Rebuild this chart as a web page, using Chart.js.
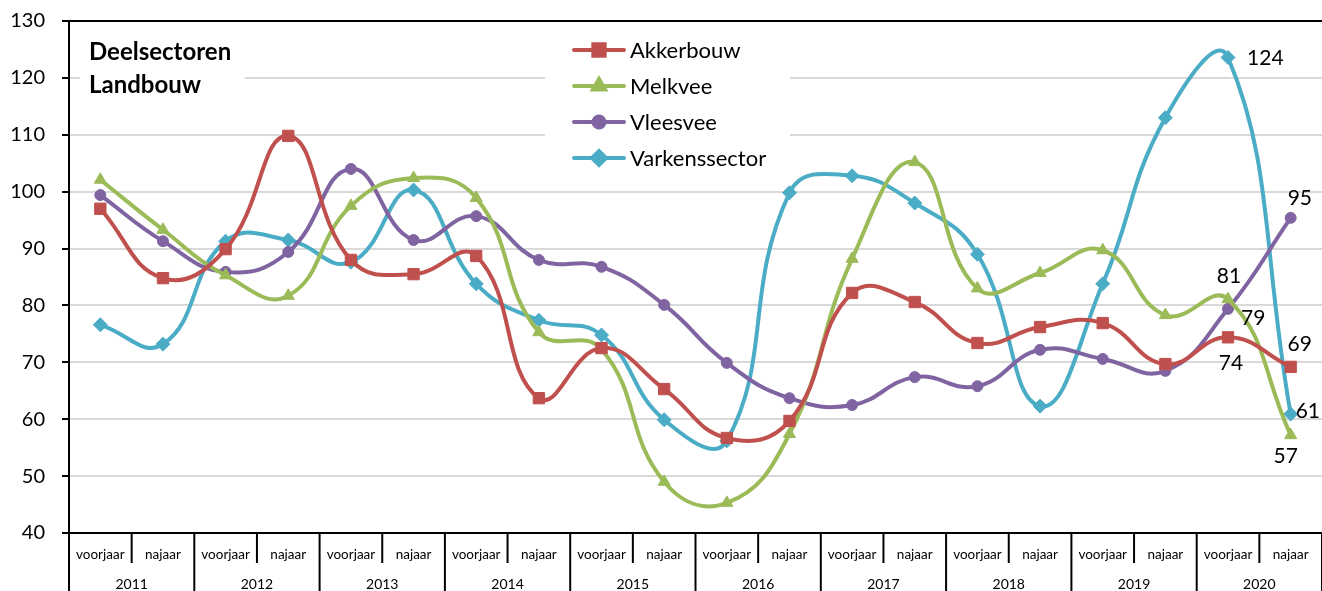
<!DOCTYPE html>
<html>
<head>
<meta charset="utf-8">
<script src="https://cdn.jsdelivr.net/npm/chart.js@4/dist/chart.umd.min.js"></script>
<style>
    html, body { margin: 0; padding: 0; background: #fff; overflow: hidden; }
    #wrap { width: 1322px; height: 591px; position: relative; }
</style>
</head>
<body>
<div id="wrap"><canvas id="landbouwChart"></canvas></div>
<script>
// ========= Data =========
const jaren = ["2011", "2012", "2013", "2014", "2015", "2016", "2017", "2018", "2019", "2020"];
const seizoenen = ["voorjaar", "najaar"];
const yTicks = [40, 50, 60, 70, 80, 90, 100, 110, 120, 130];

const akkerbouw = [97.0, 84.8, 89.9, 109.8, 88.0, 85.5, 88.7, 63.7, 72.5, 65.3,
                   56.7, 59.7, 82.2, 80.6, 73.4, 76.2, 76.9, 69.7, 74.4, 69.2];
const melkvee   = [102.1, 93.3, 85.3, 81.7, 97.5, 102.4, 98.9, 75.3, 72.3, 49.0,
                   45.3, 57.4, 88.2, 105.2, 83.0, 85.7, 89.7, 78.3, 81.1, 57.2];
const vleesvee  = [99.4, 91.3, 85.9, 89.4, 104.0, 91.5, 95.7, 88.0, 86.8, 80.1,
                   69.9, 63.7, 62.5, 67.4, 65.8, 72.2, 70.6, 68.5, 79.4, 95.4];
const varkens   = [76.6, 73.2, 91.3, 91.5, 87.6, 100.3, 83.8, 77.4, 74.8, 59.9,
                   56.2, 99.8, 102.8, 98.0, 89.0, 62.3, 83.8, 113.0, 123.6, 60.9];

const labels = jaren.flatMap(() => seizoenen);
const FONT = "Lato, 'Open Sans', sans-serif";

// offsets of the value labels on the last two points (per dataset)
const labelPos = [
    [{ dx: 3, dy: 26, align: "center" }, { dx: 9, dy: -23, align: "center" }],
    [{ dx: 1, dy: -23, align: "center" }, { dx: -5, dy: 21, align: "center" }],
    [{ dx: 13, dy: 9, align: "left" }, { dx: -3, dy: -20, align: "left" }],
    [{ dx: 19, dy: 1, align: "left" }, { dx: 5, dy: -3, align: "left" }]
];

// ========= Plugin: title, legend, x-axis table, value labels =========
const kaderPlugin = {
    id: "kader",
    beforeDatasetsDraw(chart) {
        const ctx = chart.ctx;
        ctx.save();
        ctx.fillStyle = "#fff";
        ctx.fillRect(80, 30, 165, 72);   // title box
        ctx.fillRect(545, 28, 245, 148); // legend box
        ctx.restore();
    },
    afterDatasetsDraw(chart) {
        const ctx = chart.ctx;
        ctx.save();
        ctx.font = "21px " + FONT;
        ctx.fillStyle = "#000";
        ctx.textBaseline = "middle";
        chart.data.datasets.forEach((ds, i) => {
            const meta = chart.getDatasetMeta(i);
            [18, 19].forEach((idx, k) => {
                const pt = meta.data[idx];
                const p = labelPos[i][k];
                ctx.textAlign = p.align;
                ctx.fillText(String(Math.round(ds.data[idx])), pt.x + p.dx, pt.y + p.dy);
            });
        });
        ctx.restore();
    },
    afterDraw(chart) {
        const ctx = chart.ctx;
        const area = chart.chartArea;
        const xs = chart.scales.x;
        ctx.save();

        // top border
        ctx.strokeStyle = "#000";
        ctx.lineWidth = 2;
        ctx.beginPath();
        ctx.moveTo(area.left - 1, area.top);
        ctx.lineTo(chart.width, area.top);
        ctx.stroke();

        // x-axis table dividers and year labels
        const band = xs.getPixelForValue(1) - xs.getPixelForValue(0);
        for (let i = 0; i <= labels.length; i++) {
            const x = xs.getPixelForValue(0) - band / 2 + i * band;
            ctx.beginPath();
            ctx.moveTo(x, area.bottom);
            ctx.lineTo(x, i % 2 === 0 ? chart.height : area.bottom + 30);
            ctx.stroke();
        }
        ctx.font = "14px " + FONT;
        ctx.fillStyle = "#000";
        ctx.textAlign = "center";
        ctx.textBaseline = "middle";
        jaren.forEach((j, k) => {
            const x = xs.getPixelForValue(2 * k) + band / 2;
            ctx.fillText(j, x, area.bottom + 51);
        });

        // title
        ctx.font = "bold 24px " + FONT;
        ctx.textAlign = "left";
        ctx.fillText("Deelsectoren", 89, 52);
        ctx.fillText("Landbouw", 89, 85);

        // legend
        ctx.font = "22px " + FONT;
        chart.data.datasets.forEach((ds, i) => {
            const y = 50 + i * 36;
            ctx.strokeStyle = ds.borderColor;
            ctx.lineWidth = 4;
            ctx.lineCap = "round";
            ctx.beginPath();
            ctx.moveTo(574, y);
            ctx.lineTo(624, y);
            ctx.stroke();
            ctx.fillStyle = ds.backgroundColor;
            ctx.strokeStyle = ds.borderColor;
            Chart.helpers.drawPoint(ctx, {
                pointStyle: ds.pointStyle,
                radius: ds.pointRadius,
                rotation: 0,
                borderWidth: 1
            }, 599, y);
            ctx.fillStyle = "#000";
            ctx.fillText(ds.label, 630, y + 1);
        });
        ctx.restore();
    }
};

function reeks(label, data, color, style, radius) {
    return {
        label: label,
        data: data,
        borderColor: color,
        backgroundColor: color,
        borderWidth: 4,
        tension: 0.45,
        pointStyle: style,
        pointRadius: radius,
        pointHoverRadius: radius,
        pointBorderWidth: 1
    };
}

document.addEventListener("DOMContentLoaded", function () {
    new Chart(document.getElementById("landbouwChart"), {
        type: "line",
        data: {
            labels: labels,
            datasets: [
                reeks("Akkerbouw", akkerbouw, "#c0504d", "rect", 8),
                reeks("Melkvee", melkvee, "#9bbb59", "triangle", 7),
                reeks("Vleesvee", vleesvee, "#8064a2", "circle", 5.5),
                reeks("Varkenssector", varkens, "#4bacc6", "rectRot", 7)
            ]
        },
        options: {
            responsive: true,
            maintainAspectRatio: false,
            animation: false,
            events: [],
            layout: {
                autoPadding: false,
                padding: { top: 21, right: 0, left: 0, bottom: 0 }
            },
            plugins: {
                legend: { display: false },
                tooltip: { enabled: false }
            },
            scales: {
                x: {
                    offset: true,
                    grid: { display: false },
                    border: { color: "#000", width: 2 },
                    ticks: {
                        color: "#000",
                        font: { family: FONT, size: 13.5 },
                        padding: 6,
                        maxRotation: 0,
                        autoSkip: false
                    },
                    afterFit(scale) {
                        scale.height = 58;
                        scale.paddingLeft = 0;
                        scale.paddingRight = 0;
                    }
                },
                y: {
                    min: 40,
                    max: 130,
                    afterBuildTicks(scale) { scale.ticks = yTicks.map(v => ({ value: v })); },
                    grid: {
                        color: "#d9d9d9",
                        lineWidth: 2,
                        tickColor: "#000",
                        tickLength: 7,
                        tickWidth: 2
                    },
                    border: { color: "#000", width: 2 },
                    ticks: {
                        color: "#000",
                        font: { family: FONT, size: 20 },
                        padding: 17
                    },
                    afterFit(scale) {
                        scale.width = 69;
                        scale.paddingTop = 0;
                        scale.paddingBottom = 0;
                    }
                }
            }
        },
        plugins: [kaderPlugin]
    });
});
</script>
</body>
</html>
